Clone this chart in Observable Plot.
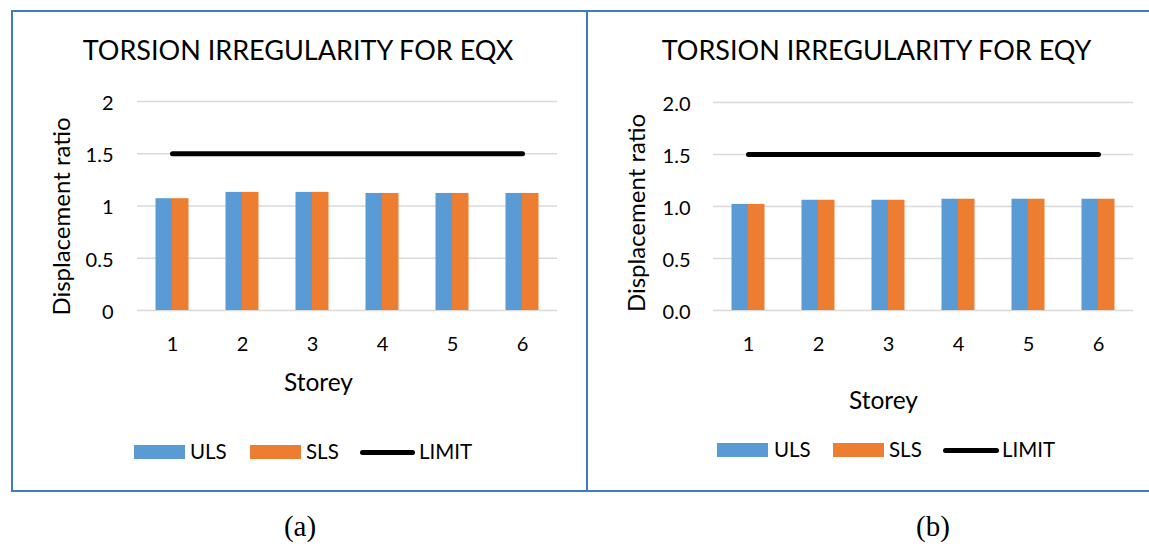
<!DOCTYPE html>
<html>
<head>
<meta charset="utf-8">
<script src="https://cdn.jsdelivr.net/npm/d3@7"></script>
<script src="https://cdn.jsdelivr.net/npm/@observablehq/plot@0.6"></script>
<style>
  html, body { margin: 0; padding: 0; background: #fff; }
  #root { position: relative; width: 1149px; height: 547px; overflow: hidden; font-family: Lato, sans-serif; color: #000; }
  .frame { position: absolute; left: 11px; top: 10px; width: 1200px; height: 478px; border: 2px solid #3E7CC0; box-sizing: content-box; border-right: none; }
  .divider { position: absolute; left: 586px; top: 10px; width: 2px; height: 480px; background: #3E7CC0; }
  .panel { position: absolute; top: 0; }
  .panel svg { overflow: visible; }
  .sw { position: absolute; height: 14px; }
  .lg { position: absolute; font-size: 20.5px; line-height: 20px; white-space: nowrap; }
  .ln { position: absolute; height: 5px; border-radius: 3px; background: #000; }
  .cap { position: absolute; font-family: "Liberation Serif", "Times New Roman", serif; font-size: 29px; line-height: 30px; transform: translateX(-50%); }
</style>
</head>
<body>
<div id="root">
  <div class="frame"></div>
  <div class="divider"></div>
</div>
<script>
// Storey numbers along the x axis
const storeys = [1, 2, 3, 4, 5, 6];

// Displacement ratio per storey, EQX load case
const ulsEqx = [1.07, 1.13, 1.13, 1.12, 1.12, 1.12];
const slsEqx = [1.07, 1.13, 1.13, 1.12, 1.12, 1.12];

// Displacement ratio per storey, EQY load case
const ulsEqy = [1.02, 1.06, 1.06, 1.07, 1.07, 1.07];
const slsEqy = [1.02, 1.06, 1.06, 1.07, 1.07, 1.07];

// Code limit for torsional irregularity
const limit = [1.5, 1.5, 1.5, 1.5, 1.5, 1.5];

// Y tick values
const yTicks = [0, 0.5, 1, 1.5, 2];

const seriesNames = ["ULS", "SLS", "LIMIT"];
const ulsColor = "#5B9BD5";
const slsColor = "#ED7D31";

function panel(opts) {
  const rows = storeys.map((s, i) => ({storey: s, uls: opts.uls[i], sls: opts.sls[i], limit: limit[i]}));
  const centred = {textAnchor: "middle", lineAnchor: "middle", fill: "#000"};
  return Plot.plot({
    width: opts.width,
    height: 480,
    marginLeft: opts.marginLeft,
    marginRight: opts.marginRight,
    marginTop: opts.marginTop,
    marginBottom: 480 - 310,
    style: {fontFamily: "Lato, sans-serif", color: "#000", background: "transparent", overflow: "visible"},
    x: {type: "band", domain: storeys, padding: 0, round: false},
    y: {domain: [0, 2]},
    marks: [
      Plot.gridY(yTicks, {stroke: "#d9d9d9", strokeOpacity: 1, strokeWidth: 1.5}),
      Plot.axisY(yTicks, {tickSize: 0, tickPadding: opts.yPad, fontSize: 20, dy: 2, tickFormat: opts.tickFormat, label: null}),
      Plot.axisX({tickSize: 0, tickPadding: 26, fontSize: 20, label: null}),
      Plot.barY(rows, {x: "storey", y: "uls", fill: ulsColor, insetLeft: 18.5, insetRight: 35}),
      Plot.barY(rows, {x: "storey", y: "sls", fill: slsColor, insetLeft: 35, insetRight: 18.5}),
      Plot.lineY(rows, {x: "storey", y: "limit", stroke: "#000", strokeWidth: 5, strokeLinecap: "round"}),
      Plot.text([opts.title], {...centred, frameAnchor: "top", dx: opts.titleDx, dy: opts.titleDy, fontSize: 27}),
      Plot.text(["Displacement ratio"], {...centred, frameAnchor: "left", rotate: -90, dx: opts.yLabelDx, dy: opts.yLabelDy, fontSize: 24}),
      Plot.text(["Storey"], {...centred, frameAnchor: "bottom", dx: opts.xLabelDx, dy: opts.xLabelDy, fontSize: 24.5})
    ]
  });
}

const root = document.getElementById("root");

function place(node, left) {
  const wrap = document.createElement("div");
  wrap.className = "panel";
  wrap.style.left = left + "px";
  wrap.appendChild(node);
  root.appendChild(wrap);
}

place(panel({
  title: "TORSION IRREGULARITY FOR EQX",
  uls: ulsEqx, sls: slsEqx,
  width: 587, marginLeft: 137, marginRight: 30, marginTop: 101,
  yPad: 24, tickFormat: d3.format("~g"),
  titleDx: -49.5, titleDy: -50,
  yLabelDx: -75, yLabelDy: 10.5,
  xLabelDx: -29, xLabelDy: 73
}), 0);

place(panel({
  title: "TORSION IRREGULARITY FOR EQY",
  uls: ulsEqy, sls: slsEqy,
  width: 562, marginLeft: 126, marginRight: 16, marginTop: 102,
  yPad: 23, tickFormat: d3.format(".1f"),
  titleDx: -47, titleDy: -51,
  yLabelDx: -76, yLabelDy: 6.5,
  xLabelDx: -40, xLabelDy: 91
}), 587);

// Legends below each panel
function legend(items, top) {
  const [ulsX, ulsT, slsX, slsT, limX, limW, limT] = items;
  const add = (cls, css, text) => {
    const el = document.createElement("div");
    el.className = cls;
    Object.assign(el.style, css);
    if (text) el.textContent = text;
    root.appendChild(el);
  };
  add("sw", {left: ulsX + "px", top: top + "px", width: "51px", background: ulsColor});
  add("lg", {left: ulsT + "px", top: (top - 4) + "px"}, seriesNames[0]);
  add("sw", {left: slsX + "px", top: top + "px", width: "51px", background: slsColor});
  add("lg", {left: slsT + "px", top: (top - 4) + "px"}, seriesNames[1]);
  add("ln", {left: limX + "px", top: (top + 5) + "px", width: limW + "px"});
  add("lg", {left: limT + "px", top: (top - 4) + "px"}, seriesNames[2]);
}
legend([134, 190, 250, 306, 360, 55, 419], 445);
legend([717, 774, 833, 889, 943, 56, 1002], 443);

// Sub-figure captions
for (const [text, x] of [["(a)", 300], ["(b)", 933]]) {
  const el = document.createElement("div");
  el.className = "cap";
  el.style.left = x + "px";
  el.style.top = "511px";
  el.textContent = text;
  root.appendChild(el);
}
</script>
</body>
</html>
